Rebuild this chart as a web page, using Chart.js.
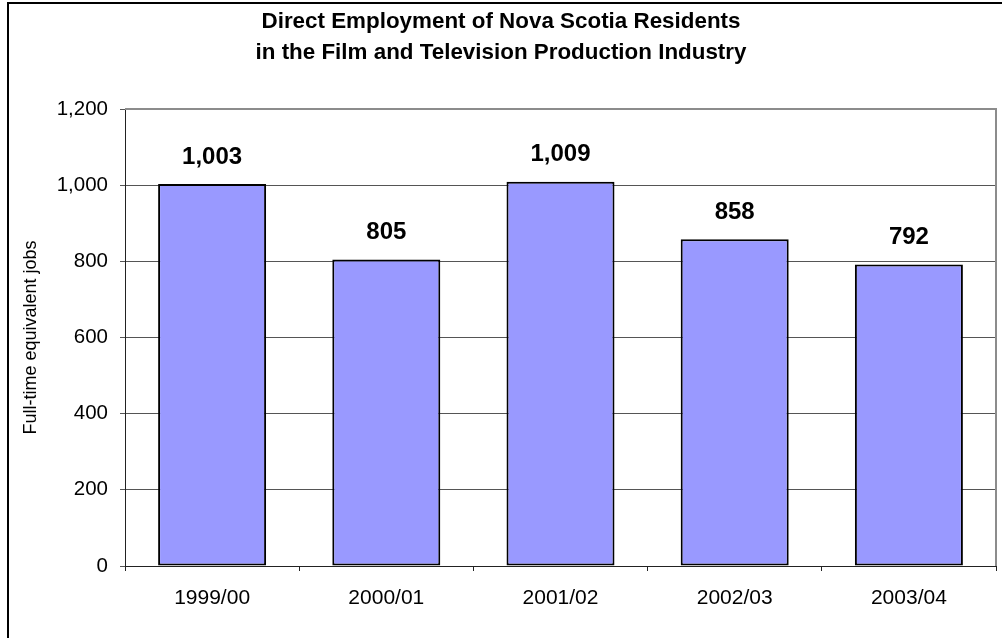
<!DOCTYPE html>
<html>
<head>
<meta charset="utf-8">
<script src="https://cdn.jsdelivr.net/npm/chart.js@4.4.0/dist/chart.umd.min.js"></script>
<style>
  html, body { margin: 0; padding: 0; background: #fff; }
  #wrap { position: relative; width: 1002px; height: 638px; overflow: hidden; }
  #frame { position: absolute; left: 7px; top: 2px; width: 1100px; height: 700px; border: 2px solid #000; }
  #myChart { position: absolute; left: 0; top: 0; }
</style>
</head>
<body>
<div id="wrap">
  <div id="frame"></div>
  <canvas id="myChart" width="1002" height="638"></canvas>
</div>
<script>
var saisons = ['1999/00', '2000/01', '2001/02', '2002/03', '2003/04'];
var emplois = [1003, 805, 1009, 858, 792];
var titre = ['Direct Employment of Nova Scotia Residents', 'in the Film and Television Production Industry'];
var titreAxeY = 'Full-time equivalent jobs';

var police = 'Arial, "Liberation Sans", sans-serif';

// valeurs au-dessus des barres + bordure grise du haut et de droite
var etiquettes = {
    id: 'etiquettes',
    afterDatasetsDraw: function (chart) {
        var ctx = chart.ctx;
        var meta = chart.getDatasetMeta(0);
        ctx.save();
        ctx.font = 'bold 24px ' + police;
        ctx.fillStyle = '#000';
        ctx.textAlign = 'center';
        ctx.textBaseline = 'middle';
        meta.data.forEach(function (bar, i) {
            ctx.fillText(emplois[i].toLocaleString('en-US'), bar.x, bar.y - 27);
        });
        ctx.restore();
    },
    beforeDatasetsDraw: function (chart) {
        var a = chart.chartArea;
        var ctx = chart.ctx;
        ctx.save();
        ctx.strokeStyle = '#8c8c8c';
        ctx.lineWidth = 2;
        ctx.beginPath();
        ctx.moveTo(a.left, a.top);
        ctx.lineTo(a.right, a.top);
        ctx.lineTo(a.right, a.bottom);
        ctx.stroke();
        ctx.restore();
    }
};

var ctx = document.getElementById('myChart').getContext('2d');
var myChart = new Chart(ctx, {
    type: 'bar',
    data: {
        labels: saisons,
        datasets: [{
            data: emplois,
            backgroundColor: '#9999FF',
            borderColor: '#000',
            borderWidth: 2,
            borderSkipped: false,
            categoryPercentage: 1,
            barPercentage: 0.62
        }]
    },
    options: {
        responsive: false,
        animation: false,
        devicePixelRatio: 1,
        layout: { padding: { left: 6, right: 6, top: 0, bottom: 0 } },
        plugins: {
            legend: { display: false },
            tooltip: { enabled: false },
            title: {
                display: true,
                text: titre,
                color: '#000',
                font: { family: police, size: 22.4, weight: 'bold', lineHeight: 1.384 },
                padding: { top: 6.5, bottom: 40.5 }
            }
        },
        scales: {
            x: {
                afterFit: function (scale) { scale.height = 72; },
                grid: { drawOnChartArea: false, drawTicks: true, tickLength: 5, color: '#222', offset: true },
                border: { color: '#222', width: 1 },
                ticks: { color: '#000', font: { family: police, size: 21 }, padding: 15 }
            },
            y: {
                min: 0,
                max: 1200,
                afterFit: function (scale) { scale.width = 119; },
                ticks: {
                    stepSize: 200,
                    color: '#000',
                    padding: 12,
                    font: { family: police, size: 20.5 },
                    callback: function (v) { return v.toLocaleString('en-US'); }
                },
                grid: { color: '#555', lineWidth: 1, tickLength: 5 },
                border: { color: '#222', width: 1 },
                title: {
                    display: true,
                    text: titreAxeY,
                    color: '#000',
                    font: { family: police, size: 18 },
                    padding: { top: 14, bottom: 0 }
                }
            }
        }
    },
    plugins: [etiquettes]
});
</script>
</body>
</html>
